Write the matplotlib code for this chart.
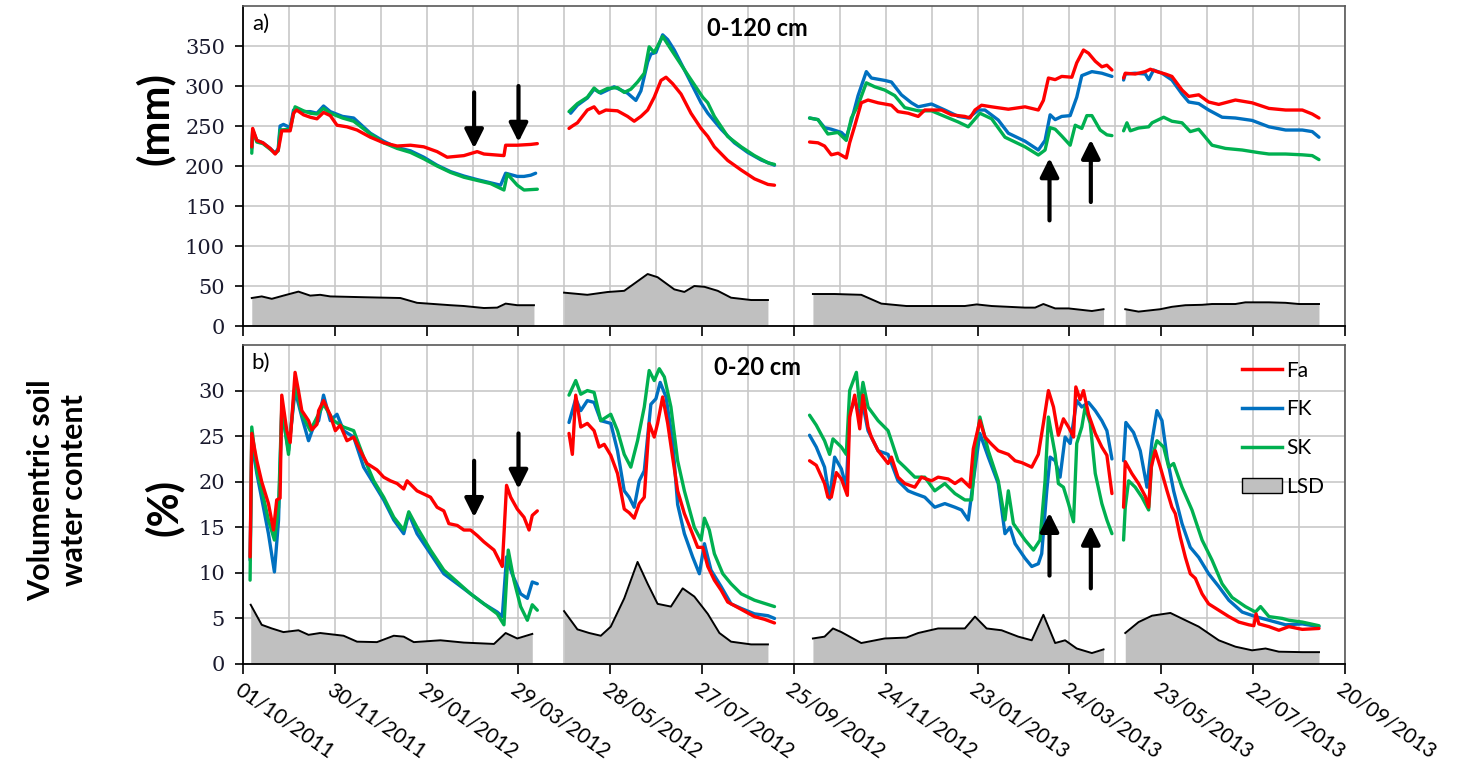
import numpy as np
import pandas as pd
import matplotlib
matplotlib.use("Agg")
import matplotlib.pyplot as plt
from matplotlib.lines import Line2D
from matplotlib.patches import Patch

# days counted from 01/10/2011; each series is a list of measuring periods (gaps between)
START = pd.Timestamp("2011-10-01")
TICK_DAYS = list(range(0, 721, 60))
TICK_LABELS = [(START + pd.Timedelta(days=d)).strftime("%d/%m/%Y") for d in TICK_DAYS]

# ---- a) 0-120 cm, soil water storage (mm)
FA_120 = [
    [(5.7, 224), (6.3, 247), (9, 232), (13, 229), (17.7, 222), (21, 215), (23, 220), (24.2, 232), (25.3, 244),
     (30.8, 244), (33, 266), (35, 270), (39.5, 264), (43.9, 261), (48.3, 259), (52.6, 267), (57, 263), (61.4, 251),
     (67.9, 249), (74.5, 245), (83.2, 236), (91.9, 229), (100.7, 225), (109.4, 226), (118.1, 224), (126.8, 218),
     (133.4, 211), (144.3, 213), (153, 218), (157.4, 215), (170.5, 213), (171.6, 226), (179.2, 226), (188, 227),
     (192.3, 228)],
    [(213, 247), (215.2, 250), (218.5, 254), (225, 270), (229.4, 274), (232.7, 266), (237.1, 270), (244.7, 269),
     (251.3, 262), (255.6, 256), (260, 262), (264.4, 270), (268.7, 286), (273.1, 307), (276.4, 311), (280.7, 303),
     (286.2, 290), (292.7, 266), (299.3, 247), (303.7, 237), (308, 224), (316.7, 207), (325.5, 195), (334.2, 184),
     (343, 177), (347.3, 176)],
    [(370.2, 230), (375.7, 229), (380, 225), (384.4, 214), (388.8, 216), (394.2, 210), (396.4, 229), (399.7, 250),
     (404, 279), (408.4, 282.5), (415, 279), (423.7, 276), (428, 268), (434.6, 266), (441.2, 262), (445.5, 270),
     (456.4, 270), (463, 264), (471.7, 262), (475, 260), (478.3, 270), (482.6, 276), (489.2, 274), (500.1, 271),
     (511, 274), (519.7, 270), (523, 282), (526.3, 310), (530.7, 308), (535, 312), (541.6, 311), (544.8, 329),
     (549.2, 345), (552.5, 341), (556.9, 331), (561.2, 324), (564.5, 326), (567.8, 320)],
    [(575.4, 310), (576.5, 316), (583, 315), (589.6, 318), (592.9, 321), (597.2, 318), (602.7, 315), (607, 312),
     (613.6, 295), (618, 287), (624.5, 289), (631, 280), (637.6, 277), (648.5, 282.5), (659.4, 279), (670.4, 272),
     (681.3, 270), (692.2, 270), (698.7, 265), (703.1, 260)],
]
FK_120 = [
    [(5.7, 222), (6.3, 245), (9, 232), (13, 229), (17.7, 222), (21, 216), (23, 222), (24.2, 250), (26.4, 252),
     (30.8, 248), (33, 270), (35, 272), (39.5, 268), (44, 268), (48.3, 266), (52.6, 275), (57, 268), (65, 262),
     (72.3, 260), (83.2, 241), (91.9, 231), (100.7, 223), (109.4, 219), (118.1, 211), (126.8, 201), (135.6, 193),
     (144.3, 187.5), (153, 183), (161.8, 179), (168.3, 176), (171.6, 191), (179.2, 187), (183.6, 187), (188, 188.5),
     (191.2, 191)],
    [(214.1, 266), (218.5, 276), (225, 285), (229.4, 296), (233.8, 291), (238.2, 295), (242.5, 299), (246.9, 295),
     (251.3, 291), (256.7, 282), (260, 294), (264.4, 330), (266.5, 340), (269.8, 342), (274.2, 364), (277.5, 358),
     (281.8, 345), (290.6, 312), (299.3, 279), (303.7, 266), (312.4, 246), (321.1, 229), (329.8, 217),
     (338.6, 207.5), (347.3, 201)],
    [(370.2, 260), (375.7, 258), (380, 248), (384.4, 246), (391, 242), (394.2, 236), (397.5, 256), (401.9, 288),
     (407.3, 318), (410.6, 310), (419.3, 307), (423.7, 305), (430.2, 289), (436.8, 279), (441.2, 274),
     (449.9, 277.5), (458.6, 270), (467.4, 262), (473.9, 260), (480.5, 270), (484.8, 270), (493.5, 257.5),
     (500.1, 241), (511, 231), (519.7, 220), (524.1, 232), (527.4, 264), (530.7, 258), (535, 262), (540.5, 263),
     (544.8, 286), (548.1, 313), (554.7, 318), (561.2, 316), (567.8, 312)],
    [(575.4, 307.5), (576.5, 315), (583, 316), (589.6, 315), (591.8, 308), (595, 320), (600.5, 316), (607, 307.5),
     (613.6, 290), (618, 280), (624.5, 278), (631, 270), (639.8, 261), (648.5, 260), (659.4, 257), (670.4, 249),
     (681.3, 245), (692.2, 245), (698.7, 243), (703.1, 236)],
]
SK_120 = [
    [(5.7, 216), (6.3, 244), (9, 230), (13, 228), (17.7, 221), (21, 216), (23, 219), (24.2, 245), (30.8, 246),
     (34, 274), (39.5, 269), (44, 266), (48.3, 265), (52.6, 272), (57, 266), (65, 260), (72.3, 256), (83.2, 240),
     (91.9, 229), (100.7, 222), (109.4, 217), (118.1, 209), (126.8, 200), (135.6, 192), (144.3, 186), (153, 182),
     (161.8, 178), (170.5, 170), (172.7, 190), (179.2, 176), (183.6, 170), (192.3, 171)],
    [(213, 268), (218.5, 278), (225, 286), (229.4, 297.5), (232.7, 292), (238.2, 297), (244.7, 298), (249.1, 292),
     (253.4, 296), (257.8, 305), (262.2, 316), (265.4, 349), (268.7, 342), (274.2, 362), (279.6, 346),
     (290.6, 314), (300.4, 286), (303.7, 279), (308, 262), (316.7, 237), (325.5, 224), (334.2, 213), (343, 204),
     (347.3, 202)],
    [(370.2, 260), (375.7, 258), (382.2, 240), (388.8, 242), (394.2, 232), (397.5, 260), (401.9, 276),
     (407.3, 304), (412.8, 299), (419.3, 295), (425.9, 288), (432.4, 273), (441.2, 269), (449.9, 269),
     (458.6, 262), (467.4, 255), (473.9, 249), (481.5, 266), (489.2, 259), (497.9, 236), (511, 224),
     (519.7, 213.75), (524.1, 220), (527.4, 248), (530.7, 246), (535, 237.5), (540.5, 226), (543.8, 251),
     (548.1, 247), (551.4, 263), (554.7, 263), (560.1, 245), (564.5, 239), (567.8, 238)],
    [(575.4, 244), (577.6, 254), (579.8, 244), (585.2, 247.5), (591.8, 249), (594, 254), (601.6, 261), (607, 256),
     (613.6, 254), (619, 243), (624.5, 246), (633.2, 226), (642, 222), (652.9, 220), (663.8, 216.7), (670.4, 215),
     (681.3, 215), (692.2, 214), (698.7, 213), (703.1, 208)],
]
LSD_120 = [
    [(5.7, 35), (12.2, 37), (18.8, 34), (26.4, 38), (36.2, 43), (43.9, 38), (50.4, 39), (57, 37), (78.8, 36),
     (102.8, 35), (113.7, 29), (135.6, 26), (144.3, 25), (157.4, 22.5), (166.1, 23), (171.6, 28), (179.2, 26),
     (190.1, 26)],
    [(209.8, 41.7), (225, 39), (238.2, 42.5), (249.1, 44), (264.4, 65), (270.9, 61), (281.8, 45.8), (288.4, 42.6),
     (294.9, 50), (301.5, 49), (310.2, 44), (318.9, 35.4), (332, 32.5), (343, 32.5)],
    [(372.4, 40), (386.6, 40), (404, 39), (417.1, 28), (433.5, 25), (452, 25), (471.7, 25), (479.4, 27),
     (489.2, 25), (511, 23), (517.6, 23), (523, 27.5), (530.7, 22), (539.4, 22), (554.7, 18.75), (562.3, 21)],
    [(576.5, 21), (585.2, 18), (599.4, 21), (607, 24), (615.8, 26), (626.7, 26.5), (633.2, 27.5), (648.5, 27.5),
     (655, 29.6), (670.4, 29.6), (681.3, 29), (690, 27.5), (703.1, 27.5)],
]

# ---- b) 0-20 cm, volumetric water content (%)
FA_20 = [
    [(4.6, 11.75), (5.7, 25.3), (9, 22.3), (12.2, 20), (16.6, 17.6), (19.9, 14.7), (22, 18), (24.2, 18.2),
     (25.3, 29.5), (28.6, 25.6), (30.8, 24.3), (34, 32), (36.2, 30), (38.4, 27.8), (42.8, 26.7), (45, 25.7),
     (48.3, 26.3), (49.4, 27.8), (52.6, 28.9), (57, 27.3), (60.3, 25.6), (63.5, 26.2), (67.9, 24.5), (72.3, 24.9),
     (76.6, 23.4), (81, 22), (87.5, 21.3), (91.9, 20.5), (96.3, 20.1), (100.7, 19.8), (105, 19.2), (107.2, 20.1),
     (113.7, 19), (122.5, 18.3), (126.8, 17.2), (131.2, 16.8), (134.5, 15.4), (140, 15.2), (144.3, 14.7),
     (148.7, 14.7), (153, 14.1), (157.4, 13.4), (164, 12.5), (169.4, 10.7), (172.2, 19.6), (174.9, 18.3),
     (179.2, 17), (183.6, 16.1), (186.9, 14.7), (189, 16.3), (192.3, 16.8)],
    [(213, 25.3), (215.2, 23), (217.4, 29.5), (220.7, 26), (225, 26.4), (229.4, 25.6), (232.7, 23.8), (236, 24.1),
     (240.3, 22.9), (244.7, 20.9), (249.1, 17), (252.3, 16.6), (255.6, 16), (258.9, 17.6), (262.2, 18.3),
     (265.4, 26.4), (268.7, 24.9), (270.9, 26.4), (274.2, 29.3), (277.5, 26.4), (280.7, 22.7), (284, 19),
     (288.4, 16.5), (292.7, 14.7), (297.1, 12.8), (300.4, 12.8), (303.7, 10.7), (308, 9.2), (312.4, 8.1),
     (316.7, 6.8), (325.5, 6), (334.2, 5.2), (340.8, 4.9), (347.3, 4.5)],
    [(370.2, 22.3), (374.6, 21.8), (380, 19.8), (382.2, 18.3), (384.4, 18.3), (387.7, 21), (391, 20.3),
     (394.9, 18.5), (396.4, 27.1), (399.7, 29.5), (403, 25.8), (405.1, 29.5), (408.4, 26), (410.6, 24.9),
     (415, 23.4), (421.5, 22), (423.7, 22.7), (428, 20.5), (432.4, 19.8), (439, 19.4), (443.3, 20.5),
     (449.9, 20.1), (454.2, 20.5), (460.8, 20.3), (465.2, 19.8), (469.5, 20.3), (475, 19.4), (477.2, 23.6),
     (481.5, 26.7), (484.8, 24.9), (489.2, 24.1), (493.5, 23.4), (500.1, 23), (504.5, 22.3), (508.8, 22.1),
     (515.4, 21.6), (519.7, 23), (523, 26.4), (526.3, 30), (529.6, 28.2), (532.8, 25.1), (536.1, 26.9),
     (539.4, 26), (542.7, 24.9), (544.2, 30.4), (547, 29), (549.2, 30), (552.5, 27.4), (556.9, 25.3),
     (561.2, 23.8), (564.5, 22.9), (567.8, 18.7)],
    [(575.4, 17.2), (576.5, 22.2), (580.8, 20.9), (585.2, 19.8), (589.6, 18.4), (591.8, 17.2), (593.5, 21.6),
     (596.1, 23.4), (599.4, 21.6), (603.8, 19), (607, 17.2), (609.2, 16.5), (612.5, 13.9), (615.8, 11.7),
     (619, 9.9), (622.3, 9.4), (626.7, 7.7), (631, 6.6), (637.6, 5.9), (644.2, 5.2), (650.7, 4.6), (657.3, 4.3),
     (660.5, 4.2), (662, 5.5), (663.8, 4.4), (670.4, 4.1), (676.9, 3.7), (683.4, 4.1), (692.2, 3.8), (703.1, 3.9)],
]
FK_20 = [
    [(4.6, 11.4), (5.7, 24.5), (9, 20.9), (13.3, 17.2), (16.6, 14.3), (20.5, 10.1), (23.2, 15.8), (25.3, 27.8),
     (29.7, 23.4), (34, 30), (38.4, 27.1), (42.8, 24.5), (46, 26), (49.4, 26.7), (52.6, 29.5), (57, 26.7),
     (61.4, 27.4), (65.7, 25.6), (72.3, 24.9), (78.8, 21.6), (85.4, 19.8), (91.9, 18), (98.5, 15.8), (105, 14.3),
     (108.3, 16.5), (113.7, 14.3), (122.5, 12.1), (131.2, 9.9), (140, 8.8), (148.7, 7.7), (157.4, 6.6),
     (166.1, 5.7), (169.4, 5.2), (172.2, 11.75), (175.8, 9.9), (181.4, 7.7), (185.8, 7.2), (189, 9), (192.3, 8.8)],
    [(213, 26.5), (217.4, 29.1), (220.7, 27.8), (225, 28.9), (229.4, 28.7), (233.8, 26.7), (240.3, 26.4),
     (244.7, 23.4), (249.1, 19), (252.3, 18.3), (255.6, 17.2), (258.9, 20.1), (262.2, 21.2), (266.5, 28.5),
     (269.8, 29.1), (272.6, 30.9), (276.4, 29.3), (280.7, 24.5), (284, 17.5), (288.4, 14.3), (293.8, 11.75),
     (298.2, 9.9), (301.5, 13.2), (305.8, 10.3), (312.4, 8.5), (318.9, 6.6), (325.5, 6.1), (334.2, 5.5),
     (343, 5.3), (347.3, 5)],
    [(370.2, 25.1), (374.6, 23.8), (380, 21.6), (383.3, 18.1), (386.6, 22.7), (391, 21.4), (394.2, 19.4),
     (396.4, 27.5), (399.7, 28.9), (403, 27.5), (405.1, 28.4), (408.4, 25.6), (415, 23.4), (421.5, 23),
     (428, 20.1), (434.6, 19), (439, 18.7), (445.5, 18.3), (452, 17.2), (458.6, 17.6), (465.2, 17.2),
     (469.5, 16.9), (473.9, 15.8), (477.2, 20.1), (481.5, 25.3), (487, 22.7), (493.5, 19.8), (497.9, 14.3),
     (501.2, 15), (504.5, 13.2), (511, 11.6), (515.4, 10.7), (519.7, 11), (521.9, 12.1), (525.2, 19),
     (527.4, 22.7), (530.7, 22.3), (533.9, 20.5), (537.2, 24.9), (540.5, 24.2), (544.8, 28.9), (548.1, 28.2),
     (552.5, 28.7), (556.9, 27.8), (561.2, 26.7), (564.5, 25.6), (567.8, 22.5)],
    [(575.4, 22.3), (576.9, 26.5), (581.9, 25.4), (586.3, 23.4), (590.7, 19.4), (594, 24.5), (597.2, 27.8),
     (600.5, 26.7), (603.8, 22.7), (608.1, 19), (613.6, 15.4), (619, 12.8), (624.5, 11.7), (631, 9.9),
     (637.6, 8.5), (644.2, 7), (652.9, 5.7), (661.6, 5.2), (670.4, 4.8), (681.3, 4.3), (692.2, 4.4), (703.1, 4.1)],
]
SK_20 = [
    [(4.6, 9.2), (5.7, 26), (9, 21.2), (13.3, 18.3), (16.6, 15.8), (20.5, 13.6), (23.2, 17.2), (25.3, 28.2),
     (29.7, 23), (34, 30.7), (38.4, 27.4), (43.9, 25.6), (52.6, 28.5), (59.2, 26.7), (65.7, 26), (72.3, 25.6),
     (78.8, 22.7), (85.4, 20.1), (91.9, 18.3), (98.5, 16.1), (105, 14.7), (108.3, 16.7), (113.7, 15),
     (122.5, 12.5), (131.2, 10.3), (140, 9), (148.7, 7.7), (157.4, 6.6), (166.1, 5.5), (170.5, 4.3),
     (173.3, 12.5), (177, 9.2), (181.4, 6.3), (185.8, 4.8), (189, 6.5), (192.3, 5.9)],
    [(213, 29.5), (217.4, 31.1), (220.7, 29.6), (225, 30), (229.4, 29.8), (233.8, 26.7), (240.3, 27.4),
     (244.7, 25.6), (249.1, 23), (253.4, 21.6), (257.8, 24.5), (262.2, 28.2), (265.4, 32.2), (268.7, 31.1),
     (272, 32.4), (275.3, 31.5), (279.6, 28.2), (284, 22.3), (288.4, 19), (294.9, 15), (299.3, 13.6), (301.5, 16),
     (304.7, 14.7), (308, 12.1), (313.5, 9.9), (318.9, 8.8), (325.5, 7.7), (334.2, 7), (347.3, 6.3)],
    [(370.2, 27.3), (374.6, 26.2), (380, 24.5), (383.3, 23), (385.5, 24.7), (391, 23.8), (394.2, 23),
     (396.4, 30), (400.8, 32), (403, 28.2), (405.1, 30.9), (408.4, 28.2), (415, 26.7), (421.5, 25.6),
     (423.7, 24.5), (428, 22.3), (432.4, 21.6), (439, 20.5), (445.5, 20.5), (452, 19), (458.6, 19.8),
     (465.2, 18.7), (471.7, 18), (476.1, 18), (479.4, 24.5), (481.5, 27.1), (487, 23.4), (493.5, 20.1),
     (497.9, 15.8), (500.1, 19), (503.4, 15.4), (511, 13.6), (516.5, 12.5), (520.8, 13.6), (524.1, 20.1),
     (526.3, 27.1), (530.7, 23), (532.8, 19.8), (536.1, 19.4), (539.4, 17.6), (542.7, 15.6), (544.8, 24.2),
     (548.1, 26), (550.3, 28.2), (553.6, 26.4), (556.9, 20.9), (561.2, 17.6), (564.5, 15.8), (567.8, 14.3)],
    [(575.4, 13.6), (576.5, 17.2), (578.7, 20.1), (583, 19.4), (587.4, 18.3), (591.8, 16.9), (594, 22.7),
     (597.2, 24.5), (601.6, 23.8), (604.9, 21.6), (608.1, 22), (613.6, 19.4), (620.1, 16.9), (626.7, 13.6),
     (633.2, 11.4), (639.8, 8.8), (646.3, 7.3), (655, 6.3), (661.6, 5.7), (664.9, 6.3), (670.4, 5.2),
     (679.1, 5), (683.4, 4.8), (692.2, 4.6), (703.1, 4.2)],
]
LSD_20 = [
    [(5, 6.5), (12.2, 4.3), (18.8, 3.9), (26.4, 3.5), (36.2, 3.7), (42.8, 3.2), (50.4, 3.4), (65.7, 3.1),
     (74.5, 2.45), (87.5, 2.4), (98.5, 3.1), (105, 3.0), (111.6, 2.4), (129, 2.6), (144.3, 2.35), (164, 2.2),
     (171.6, 3.4), (179.2, 2.8), (189, 3.3)],
    [(209.8, 5.8), (218.5, 3.8), (226.2, 3.4), (233.8, 3.1), (240.3, 4.1), (249.1, 7.2), (257.8, 11.2),
     (264.4, 8.8), (270.9, 6.6), (279.6, 6.3), (287.3, 8.3), (294.9, 7.4), (303.7, 5.5), (311.3, 3.4),
     (318.9, 2.45), (332, 2.15), (343, 2.15)],
    [(372.4, 2.8), (380, 3.0), (385.5, 3.9), (391, 3.5), (404, 2.3), (419.3, 2.8), (433.5, 2.9), (441.2, 3.4),
     (454.2, 3.9), (471.7, 3.9), (478.3, 5.2), (485.9, 3.9), (495.7, 3.7), (506.6, 3.0), (515.4, 2.6),
     (523, 5.4), (530.7, 2.3), (537.2, 2.6), (544.8, 1.7), (554.7, 1.2), (562.3, 1.6)],
    [(576.5, 3.4), (585.2, 4.6), (594, 5.3), (606, 5.6), (615.8, 4.8), (624.5, 4.1), (637.6, 2.6), (648.5, 1.9),
     (659.4, 1.5), (668.2, 1.7), (676.9, 1.35), (692.2, 1.3), (703.1, 1.3)],
]

# arrows (day, tail value, head value)
ARROWS_120 = [(151, 292, 222), (180, 300, 230), (527, 132, 210), (554, 155, 233)]
ARROWS_20 = [(151, 22.3, 16.1), (180, 25.3, 19.2), (527, 9.7, 16.6), (554, 8.3, 15.2)]

RED, BLUE, GREEN, GREY = "#ff0000", "#0070c0", "#00b050", "#c0c0c0"
SANS = ["Lato", "DejaVu Sans"]


def draw_panel(ax, fa, fk, sk, lsd, arrows, ymax, ystep, tag, title):
    for seg in lsd:
        d, v = np.array(seg).T
        ax.fill_between(d, 0, v, color=GREY, lw=0, zorder=1)
        ax.plot(d, v, color="black", lw=1.4, zorder=2)
    for series, col, z in [(fk, BLUE, 3), (sk, GREEN, 4), (fa, RED, 5)]:
        for seg in series:
            d, v = np.array(seg).T
            ax.plot(d, v, color=col, lw=2.4, zorder=z, solid_capstyle="round")
    for d, tail, head in arrows:
        ax.annotate("", xy=(d, head), xytext=(d, tail),
                    arrowprops=dict(arrowstyle="-|>", color="black", lw=3, mutation_scale=28,
                                    shrinkA=0, shrinkB=0), zorder=6)
    ax.set_xlim(0, 720)
    ax.set_ylim(0, ymax)
    ax.set_xticks(TICK_DAYS)
    ax.set_xticks(range(0, 721, 30), minor=True)
    ax.set_yticks(np.arange(0, ymax, ystep))
    ax.grid(True, which="both", color="#c8c8c8", lw=1.2, zorder=0)
    ax.set_axisbelow(True)
    ax.tick_params(axis="x", which="major", direction="out", length=7, width=1.2)
    ax.tick_params(axis="x", which="minor", length=0)
    ax.tick_params(axis="y", direction="out", length=6, width=1.2, pad=7,
                   labelsize=15, labelcolor="#1a1a2e", labelfontfamily="DejaVu Serif")
    for s in ["left", "bottom"]:
        ax.spines[s].set_color("black")
        ax.spines[s].set_linewidth(1.3)
    for s in ["top", "right"]:
        ax.spines[s].set_color("#595959")
        ax.spines[s].set_linewidth(1.2)
    ax.text(0.008, 0.975, tag, transform=ax.transAxes, ha="left", va="top", fontsize=16, family=SANS)
    ax.text(0.467, 0.93, title, transform=ax.transAxes, ha="center", va="center", fontsize=17,
            fontweight="bold", family=SANS)


fig = plt.figure(figsize=(14.73, 7.72), dpi=100)
ax1 = fig.add_axes([0.165, 0.5777, 0.748, 0.4145])
ax2 = fig.add_axes([0.165, 0.1399, 0.748, 0.4132])

draw_panel(ax1, FA_120, FK_120, SK_120, LSD_120, ARROWS_120, 400, 50, "a)", "0-120 cm")
draw_panel(ax2, FA_20, FK_20, SK_20, LSD_20, ARROWS_20, 35, 5, "b)", "0-20 cm")

ax1.set_xticklabels([])
ax2.set_xticklabels(TICK_LABELS, rotation=-35, ha="left", va="top", rotation_mode="anchor",
                    fontsize=15, family=SANS)
ax2.tick_params(axis="x", which="major", pad=4)

handles = [Line2D([], [], color=RED, lw=2.5), Line2D([], [], color=BLUE, lw=2.5),
           Line2D([], [], color=GREEN, lw=2.5), Patch(facecolor=GREY, edgecolor="black", lw=1)]
ax2.legend(handles, ["Fa", "FK", "SK", "LSD"], loc="upper left", bbox_to_anchor=(0.89, 1.01),
           frameon=False, handlelength=1.9, handletextpad=0.2, labelspacing=0.9,
           prop={"family": SANS, "size": 15})

fig.text(0.105, 0.847, "(mm)", rotation=90, ha="center", va="center", fontsize=30,
         fontweight="bold", family=SANS)
fig.text(0.111, 0.343, "(%)", rotation=90, ha="center", va="center", fontsize=30,
         fontweight="bold", family=SANS)
fig.text(0.039, 0.365, "Volumentric soil\nwater content", rotation=90, ha="center", va="center",
         fontsize=22, fontweight="bold", family=SANS, linespacing=1.2)

fig.savefig("out.png", dpi=100)
plt.close(fig)
